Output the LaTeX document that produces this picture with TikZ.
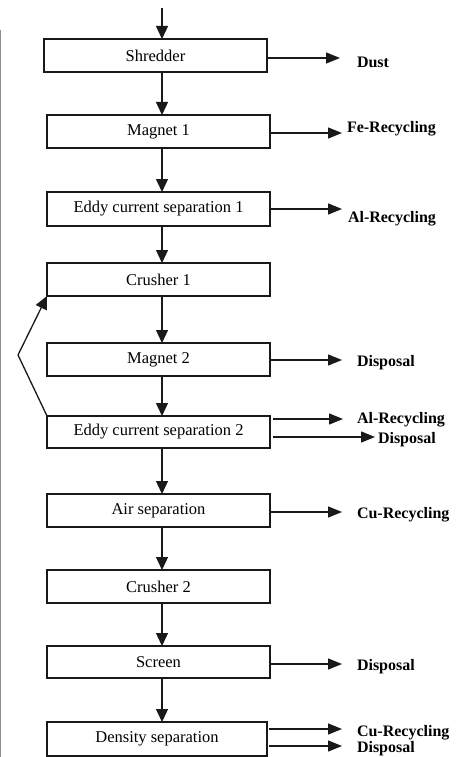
\documentclass[tikz,border=0pt]{standalone}
\usepackage{fontspec}
\setmainfont{Liberation Serif}
\usetikzlibrary{arrows.meta}
\begin{document}
\begin{tikzpicture}[x=1pt,y=-1pt,
  every node/.style={inner sep=0pt, outer sep=0pt},
  stepbox/.style={draw=black!90, line width=1.3pt, minimum width=223pt, minimum height=33pt,
    font=\fontsize{16.5}{18}\selectfont, text=black},
  outlabel/.style={anchor=base west, font=\fontsize{16}{18}\selectfont\bfseries, text=black},
  flow/.style={line width=1.3pt, draw=black!90, -{Triangle[length=13pt,width=12pt]}},
  sideflow/.style={line width=1.3pt, draw=black!90, -{Triangle[length=14pt,width=11pt]}}]
\useasboundingbox (0,0) rectangle (460,757);
\fill[white] (0,0) rectangle (460,757);
% page edge rule on the left
\draw[black!45, line width=1.4pt] (0.7,30) -- (0.7,757);

% process chain
\node[stepbox] (s1)  at (155.5,55.5) {Shredder};
\node[stepbox] (s2)  at (158.5,131.5) {Magnet 1};
\node[stepbox, minimum height=34pt] (s3) at (158.5,209) {Eddy current separation 1};
\node[stepbox] (s4)  at (158.5,279.5) {Crusher 1};
\node[stepbox] (s5)  at (158.5,359.5) {Magnet 2};
\node[stepbox, minimum height=32pt] (s6) at (158.5,432) {Eddy current separation 2};
\node[stepbox] (s7)  at (158.5,510.5) {Air separation};
\node[stepbox] (s8)  at (158.5,586.5) {Crusher 2};
\node[stepbox, minimum height=32pt] (s9) at (158.5,662) {Screen};
\node[stepbox, minimum width=220pt, minimum height=34pt] (s10) at (157,739) {Density separation};

% main vertical line and feed
\coordinate (ax) at (162,0);
\coordinate (feed) at (162,8);
\draw[flow] (feed) -- (s1.north -| ax);
\draw[flow] (s1.south -| ax) -- (s2.north -| ax);
\draw[flow] (s2.south -| ax) -- (s3.north -| ax);
\draw[flow] (s3.south -| ax) -- (s4.north -| ax);
\draw[flow] (s4.south -| ax) -- (s5.north -| ax);
\draw[flow] (s5.south -| ax) -- (s6.north -| ax);
\draw[flow] (s6.south -| ax) -- (s7.north -| ax);
\draw[flow] (s7.south -| ax) -- (s8.north -| ax);
\draw[flow] (s8.south -| ax) -- (s9.north -| ax);
\draw[flow] (s9.south -| ax) -- (s10.north -| ax);

% recirculation back to crusher 1
\coordinate (kink) at (18,355);
\draw[flow, line join=round] (s6.north west) -- (kink) -- (s4.south west);

% outputs
\node[outlabel] (o1)  at (357,68)  {Dust};
\node[outlabel] (o2)  at (347,132) {Fe-Recycling};
\node[outlabel] (o3)  at (348,222) {Al-Recycling};
\node[outlabel] (o4)  at (357,366) {Disposal};
\node[outlabel] (o5)  at (357,423) {Al-Recycling};
\node[outlabel] (o6)  at (378,443) {Disposal};
\node[outlabel] (o7)  at (357,518) {Cu-Recycling};
\node[outlabel] (o8)  at (357,670) {Disposal};
\node[outlabel] (o9)  at (357,736) {Cu-Recycling};
\node[outlabel] (o10) at (357,752) {Disposal};

\coordinate (t1)  at (340,58);
\coordinate (t2)  at (342,133);
\coordinate (t3)  at (342,209);
\coordinate (t4)  at (342,360);
\coordinate (t5)  at (343,419);
\coordinate (t6)  at (375,437);
\coordinate (t7)  at (342,512);
\coordinate (t8)  at (342,664);
\coordinate (t9)  at (342,729);
\coordinate (t10) at (342,746);

\draw[sideflow] (s1.east |- t1) -- (t1);
\draw[sideflow] (s2.east |- t2) -- (t2);
\draw[sideflow] (s3.east |- t3) -- (t3);
\draw[sideflow] (s5.east |- t4) -- (t4);
\draw[sideflow] ([xshift=3pt]s6.east |- t5) -- (t5);
\draw[sideflow] ([xshift=3pt]s6.east |- t6) -- (t6);
\draw[sideflow] (s7.east |- t7) -- (t7);
\draw[sideflow] (s9.east |- t8) -- (t8);
\draw[sideflow] ([xshift=2pt]s10.east |- t9) -- (t9);
\draw[sideflow] ([xshift=2pt]s10.east |- t10) -- (t10);
\end{tikzpicture}
\end{document}
